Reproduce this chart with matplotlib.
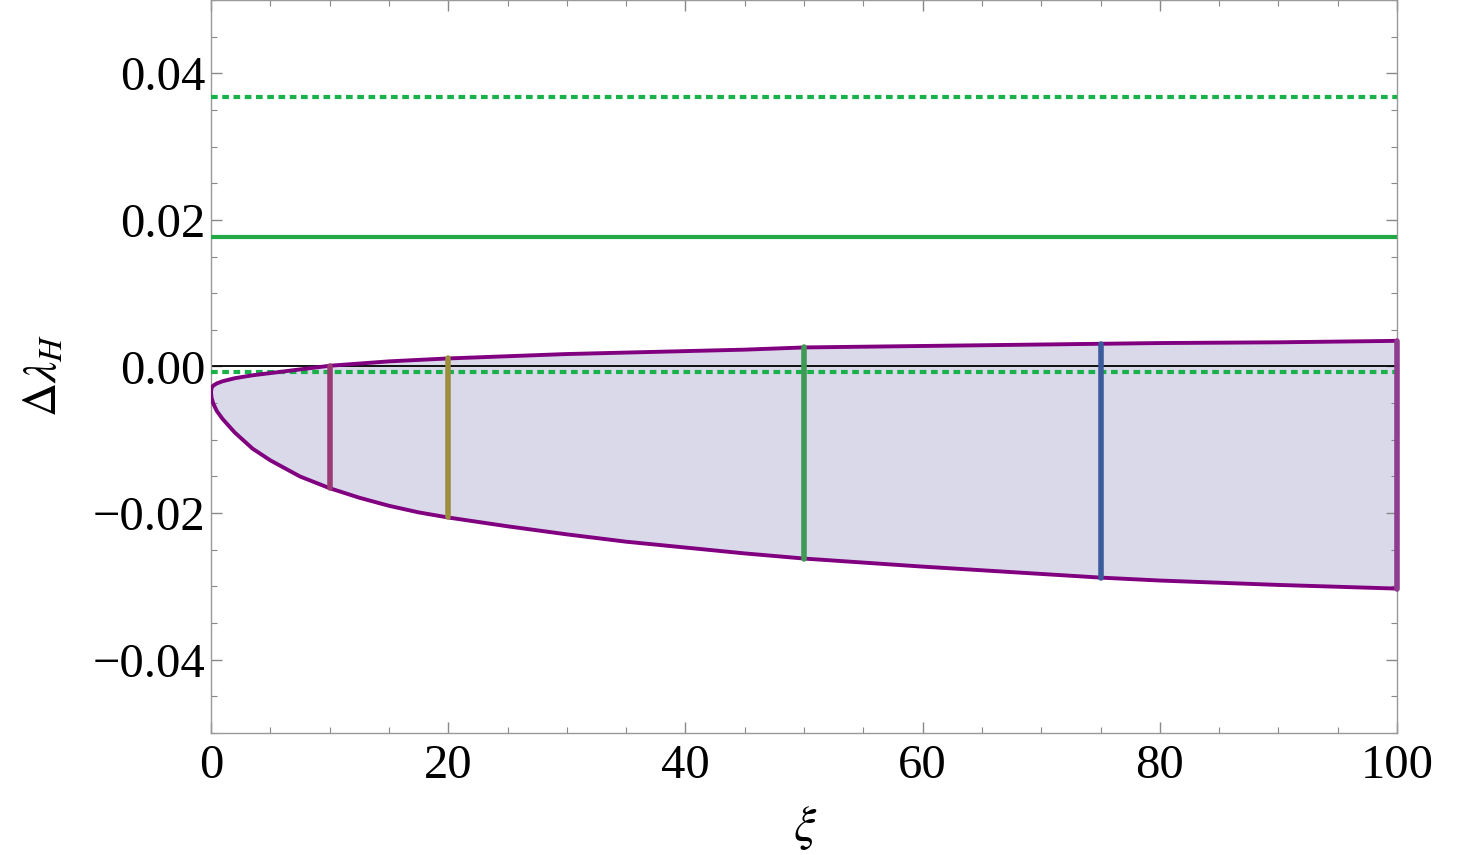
import numpy as np
import matplotlib
matplotlib.use("Agg")
import matplotlib.pyplot as plt
from matplotlib.ticker import MultipleLocator, FixedLocator

plt.rcParams['font.family'] = 'serif'
plt.rcParams['font.serif'] = ['Liberation Serif', 'DejaVu Serif']
plt.rcParams['mathtext.fontset'] = 'stix'

# boundary of allowed region
xi = [0, 0.05, 0.2, 0.5, 1, 2, 3.5, 5, 7.5, 10, 12.5, 15, 17.5, 20, 25, 30, 35, 40, 45, 50,
      60, 70, 75, 80, 90, 100]
upper = [-0.0035, -0.0029, -0.0026, -0.0023, -0.0020, -0.0016, -0.0012, -0.0009,
         -0.0004, 0.0001, 0.0004, 0.0007, 0.0009, 0.0011, 0.0014, 0.0017, 0.0019,
         0.0021, 0.0023, 0.0026, 0.0028, 0.0030, 0.0031, 0.0032, 0.0033, 0.0035]
lower = [-0.0035, -0.0043, -0.0051, -0.0061, -0.0072, -0.0090, -0.0112, -0.0128,
         -0.0150, -0.0166, -0.0179, -0.0190, -0.0199, -0.0206, -0.0218, -0.0229,
         -0.0239, -0.0247, -0.0255, -0.0262, -0.0273, -0.0283, -0.0288, -0.0292,
         -0.0298, -0.0303]

# vertical segments at selected xi
bar_xi = [10, 20, 50, 75, 100]
bar_colors = ['#9b3b74', '#9c8e3c', '#3f9a55', '#3b5b9c', '#8e3b90']

# horizontal reference lines
solid_green = 0.0177
dotted_green = [0.0367, -0.0008]

fig = plt.figure(figsize=(14.59, 8.55), dpi=100)
ax = fig.add_axes([211/1459, 1-733/855, (1397-211)/1459, 733/855])

ax.fill_between(xi, lower, upper, color='#d9d9ea', lw=0, zorder=1)
ax.axhline(0, color='black', lw=1.3, zorder=2)
ax.axhline(solid_green, color='#22a846', lw=3.0, zorder=3)
for yv in dotted_green:
    ax.axhline(yv, color='#19b24a', lw=3.0, linestyle=(0, (1.6, 1.1)), zorder=3)

ax.plot(xi, upper, color='#800080', lw=2.8, zorder=4, solid_capstyle='round',
        solid_joinstyle='round')
ax.plot(xi, lower, color='#800080', lw=2.8, zorder=4, solid_capstyle='round',
        solid_joinstyle='round')

for bx, c in zip(bar_xi, bar_colors):
    i = xi.index(bx)
    ax.plot([bx, bx], [lower[i], upper[i]], color=c, lw=4.0, zorder=5,
            solid_capstyle='round', clip_on=False)

ax.set_xlim(0, 100)
ax.set_ylim(-0.05, 0.05)

ax.xaxis.set_major_locator(FixedLocator([0, 20, 40, 60, 80, 100]))
ax.xaxis.set_minor_locator(MultipleLocator(5))
ax.yaxis.set_major_locator(FixedLocator([-0.04, -0.02, 0.0, 0.02, 0.04]))
ax.yaxis.set_minor_locator(MultipleLocator(0.005))
ax.set_xticklabels(['0', '20', '40', '60', '80', '100'])
ax.set_yticklabels(['\u22120.04', '\u22120.02', '0.00', '0.02', '0.04'])

for s in ax.spines.values():
    s.set_color('#999999')
    s.set_linewidth(1.0)

ax.tick_params(which='both', direction='in', top=True, right=True, colors='#888888',
               labelcolor='black', labelsize=35)
ax.tick_params(which='major', length=8, width=1.0)
ax.tick_params(which='minor', length=4.5, width=0.8)
ax.tick_params(axis='y', which='major', pad=4)
ax.tick_params(axis='x', which='major', pad=8)

fig.text(45/1459, 1-375/855, r'$\Delta\lambda_H$', rotation=90, fontsize=34,
         ha='center', va='center')
fig.text(805/1459, 1-828/855, r'$\xi$', fontsize=36, ha='center', va='center')

fig.savefig('out.png', dpi=100)
